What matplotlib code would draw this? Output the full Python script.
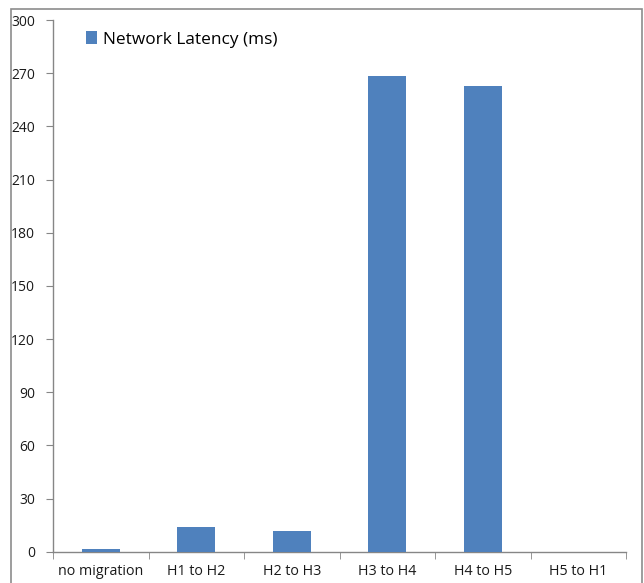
import matplotlib.pyplot as plt
from matplotlib.patches import Rectangle

# data
categories = ["no migration", "H1 to H2", "H2 to H3", "H3 to H4", "H4 to H5", "H5 to H1"]
latency = [1.5, 13.9, 11.5, 268.4, 262.6, 0]
y_ticks = [0, 30, 60, 90, 120, 150, 180, 210, 240, 270, 300]

bar_color = "#4F81BD"
axis_color = "#868686"

plt.rcParams["font.family"] = ["Open Sans", "DejaVu Sans"]

W, H = 644, 583
fig = plt.figure(figsize=(W / 100, H / 100), dpi=100)
ax = fig.add_axes([53 / W, (H - 551.7) / H, (626 - 53) / W, (551.7 - 20) / H])

x = list(range(len(categories)))
ax.bar(x, latency, width=0.4, color=bar_color, label="Network Latency (ms)", zorder=3)

ax.set_xlim(-0.5, len(categories) - 0.5)
ax.set_ylim(0, 300)
ax.set_yticks(y_ticks)
ax.set_yticklabels([str(v) for v in y_ticks], fontsize=10, color="#1a1a1a")
ax.tick_params(axis="y", direction="out", length=5, color=axis_color, pad=8)

ax.set_xticks(x)
ax.set_xticklabels(categories, fontsize=10.3, color="#1a1a1a")
ax.tick_params(axis="x", which="major", length=0, pad=9)
ax.set_xticks([i - 0.5 for i in range(len(categories) + 1)], minor=True)
ax.tick_params(axis="x", which="minor", direction="out", length=5, color=axis_color)

for side in ["top", "right"]:
    ax.spines[side].set_visible(False)
for side in ["left", "bottom"]:
    ax.spines[side].set_color(axis_color)
    ax.spines[side].set_linewidth(1)

ax.legend(loc="upper left", bbox_to_anchor=(0.03, 1.008), frameon=False,
          fontsize=12.4, handlelength=0.65, handleheight=0.75, handletextpad=0.35)

# outer chart frame
fig.patches.append(Rectangle((11 / W, -0.05), (642 - 11) / W, 1.05 - 9 / H,
                             transform=fig.transFigure, fill=False,
                             edgecolor="#8c8c8c", linewidth=1.2))

fig.savefig("out.png", dpi=100)
